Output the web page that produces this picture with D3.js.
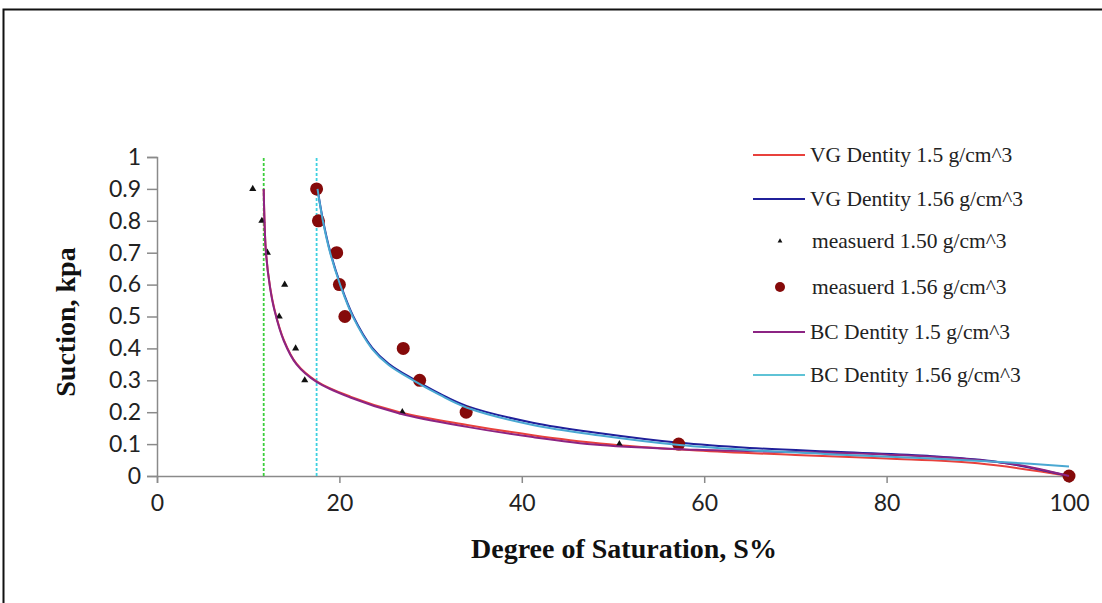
<!DOCTYPE html>
<html><head><meta charset="utf-8">
<script src="https://cdn.jsdelivr.net/npm/d3@7"></script>
<style>body{margin:0;background:#fff;}svg{display:block;}</style>
</head><body>
<svg id="chart" width="1102" height="603"></svg>
<script>
// ---- data ----
const xTicks = [0, 20, 40, 60, 80, 100];
const yTicks = [0, 0.1, 0.2, 0.3, 0.4, 0.5, 0.6, 0.7, 0.8, 0.9, 1];
const xTitle = "Degree of Saturation, S%";
const yTitle = "Suction, kpa";

const measured150 = [[10.5,0.9],[11.5,0.8],[12.1,0.7],[14.0,0.6],[13.4,0.5],[15.2,0.4],[16.2,0.3],[26.9,0.2],[50.7,0.1],[100,0]];
const measured156 = [[17.5,0.9],[17.7,0.8],[19.7,0.7],[20.0,0.6],[20.6,0.5],[27.0,0.4],[28.8,0.3],[33.9,0.2],[57.2,0.1],[100,0]];

const vg150 = [[11.7,0.9],[11.95,0.7],[12.4,0.592],[12.9,0.52],[13.9,0.427],[15.3,0.352],[17.5,0.297],[21.2,0.249],[26.6,0.2],[34.0,0.16],[41.2,0.128],[48.6,0.102],[59.2,0.08],[70,0.066],[80,0.055],[90,0.04],[100,0]];
const bc150 = [[11.7,0.9],[11.95,0.7],[12.4,0.59],[12.9,0.517],[13.9,0.424],[15.3,0.35],[17.5,0.295],[21.2,0.246],[26.6,0.196],[34.0,0.154],[41.2,0.122],[48.6,0.097],[59.2,0.082],[70,0.075],[80,0.067],[87,0.057],[94.3,0.035],[100,0]];
const vg156 = [[17.6,0.9],[18.2,0.802],[19.0,0.702],[20.1,0.602],[21.5,0.502],[23.6,0.402],[25.4,0.352],[28.2,0.302],[31.0,0.258],[34.0,0.219],[41.2,0.167],[48.6,0.134],[57.3,0.104],[65,0.088],[75,0.075],[85,0.062],[92,0.045],[100,0]];
const bc156 = [[17.6,0.9],[18.2,0.798],[19.0,0.698],[20.1,0.598],[21.5,0.498],[23.6,0.398],[25.4,0.348],[28.2,0.298],[31.0,0.254],[34.0,0.214],[41.2,0.16],[48.6,0.127],[57.3,0.097],[65,0.081],[75,0.067],[85,0.055],[93,0.043],[100,0.03]];

const residual150 = 11.7;
const residual156 = 17.5;

const legendLabels = ["VG Dentity 1.5 g/cm^3","VG Dentity 1.56 g/cm^3","measuerd 1.50 g/cm^3","measuerd 1.56 g/cm^3","BC  Dentity 1.5 g/cm^3","BC Dentity 1.56 g/cm^3"];

// ---- drawing ----
const svg = d3.select("#chart");
const x = d3.scaleLinear().domain([0,100]).range([157,1069]);
const y = d3.scaleLinear().domain([0,1]).range([476,157]);

// outer frame (top and left visible)
svg.append("rect").attr("x",3.5).attr("y",9.5).attr("width",1200).attr("height",700)
  .attr("fill","none").attr("stroke","#111").attr("stroke-width",2);

const axisColor = "#8a8a8a";
const tickFont = "Lato, 'Open Sans', sans-serif";

// y axis
const gy = svg.append("g").attr("transform",`translate(${x(0)},0)`)
  .call(d3.axisLeft(y).tickValues(yTicks).tickSize(10).tickPadding(6).tickFormat(d=>d3.format("")(+d.toFixed(1))));
// x axis
const gx = svg.append("g").attr("transform",`translate(0,${y(0)})`)
  .call(d3.axisBottom(x).tickValues(xTicks).tickSize(7).tickPadding(12).tickFormat(d3.format("d")));
[gx,gy].forEach(g=>{
  g.select(".domain").attr("stroke",axisColor).attr("stroke-width",1.5);
  g.selectAll(".tick line").attr("stroke",axisColor).attr("stroke-width",1.5);
  g.selectAll(".tick text").attr("fill","#222").style("font-family",tickFont).style("font-size","23px");
});

// residual saturation lines
svg.append("line").attr("x1",x(residual150)).attr("x2",x(residual150)).attr("y1",y(0)).attr("y2",y(1))
  .attr("stroke","#3ccf3c").attr("stroke-width",1.8).attr("stroke-dasharray","3,2");
svg.append("line").attr("x1",x(residual156)).attr("x2",x(residual156)).attr("y1",y(0)).attr("y2",y(1))
  .attr("stroke","#3dd0e0").attr("stroke-width",1.8).attr("stroke-dasharray","3,2");

const line = d3.line().x(d=>x(d[0])).y(d=>y(d[1])).curve(d3.curveCatmullRom.alpha(0.5));
const colors = {vg150:"#e8413c", vg156:"#20209a", bc150:"#8c2483", bc156:"#4aa8d2"};

svg.append("path").datum(vg150).attr("d",line).attr("fill","none").attr("stroke",colors.vg150).attr("stroke-width",2);
svg.append("path").datum(vg156).attr("d",line).attr("fill","none").attr("stroke",colors.vg156).attr("stroke-width",2);

const tri = d3.symbol().type(d3.symbolTriangle).size(22);
svg.append("g").selectAll("path").data(measured150).join("path")
  .attr("d",tri).attr("transform",d=>`translate(${x(d[0])},${y(d[1])})`).attr("fill","#111");
svg.append("g").selectAll("circle").data(measured156).join("circle")
  .attr("cx",d=>x(d[0])).attr("cy",d=>y(d[1])).attr("r",6.5).attr("fill","#850a0a");

svg.append("path").datum(bc150).attr("d",line).attr("fill","none").attr("stroke",colors.bc150).attr("stroke-width",2);
svg.append("path").datum(bc156).attr("d",line).attr("fill","none").attr("stroke",colors.bc156).attr("stroke-width",2);

// axis titles
const titleFont = "'Liberation Serif','Times New Roman',serif";
svg.append("text").attr("x",624).attr("y",558).attr("text-anchor","middle")
  .style("font-family",titleFont).style("font-weight","bold").style("font-size","28px")
  .attr("fill","#111").text(xTitle);
svg.append("text").attr("transform","translate(75,322) rotate(-90)").attr("text-anchor","middle")
  .style("font-family",titleFont).style("font-weight","bold").style("font-size","28px")
  .attr("fill","#111").text(yTitle);

// legend
const legY = [155,199,241,287,332,375];
const legTypes = ["line","line","tri","circle","line","line"];
const legColors = [colors.vg150, colors.vg156, "#111", "#850a0a", colors.bc150, "#5fc3d6"];
const leg = svg.append("g");
legendLabels.forEach((t,i)=>{
  const g = leg.append("g").attr("transform",`translate(0,${legY[i]})`);
  if(legTypes[i]==="line"){
    g.append("line").attr("x1",753).attr("x2",805).attr("y1",0).attr("y2",0).attr("stroke",legColors[i]).attr("stroke-width",2);
  } else if(legTypes[i]==="tri"){
    g.append("path").attr("d",d3.symbol().type(d3.symbolTriangle).size(10)).attr("transform","translate(780,0)").attr("fill",legColors[i]);
  } else {
    g.append("circle").attr("cx",780).attr("cy",0).attr("r",5).attr("fill",legColors[i]);
  }
  g.append("text").attr("x",i===2||i===3?812:810).attr("y",7).attr("fill","#222")
    .style("font-family",titleFont).style("font-size","21.5px").text(t);
});
</script>
</body></html>
